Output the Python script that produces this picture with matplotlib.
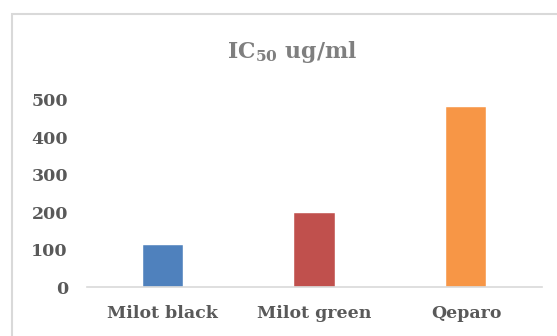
import numpy as np
import matplotlib
matplotlib.use("Agg")
import matplotlib.pyplot as plt
from matplotlib.patches import Rectangle

categories = ["Milot black", "Milot green", "Qeparo"]
ic50_values = [112, 198, 481]
bar_colors = ["#4F81BD", "#C0504D", "#F79646"]
y_ticks = [0, 100, 200, 300, 400, 500]

plt.rcParams['font.family'] = ['DejaVu Serif']
plt.rcParams['font.weight'] = 'bold'
plt.rcParams['mathtext.fontset'] = 'custom'
plt.rcParams['mathtext.rm'] = 'DejaVu Serif:bold'
plt.rcParams['mathtext.bf'] = 'DejaVu Serif:bold'

W, H = 557, 336
fig = plt.figure(figsize=(W / 100, H / 100), dpi=100)
ax = fig.add_axes([87 / W, 1 - 287 / H, (542 - 87) / W, (287 - 100) / H])

x = np.arange(len(categories))
ax.bar(x, ic50_values, width=0.265, color=bar_colors, edgecolor="white", linewidth=0.3)

ax.set_xlim(-0.5, len(categories) - 0.5)
ax.set_ylim(0, 500)
ax.set_yticks(y_ticks)
ax.set_xticks(x)
ax.set_xticklabels(categories)

for s in ["top", "right", "left"]:
    ax.spines[s].set_visible(False)
ax.spines["bottom"].set_color("#D9D9D9")
ax.spines["bottom"].set_linewidth(1.2)
ax.tick_params(axis="both", length=0, colors="#595959", labelsize=12.5)
ax.tick_params(axis="y", pad=13.7)
ax.tick_params(axis="x", pad=13)
for lbl in ax.get_xticklabels() + ax.get_yticklabels():
    lbl.set_fontweight("bold")

fig.text(292 / W, 1 - 52 / H, r"IC$_{\mathrm{50}}$ ug/ml", ha="center", va="center",
         fontsize=15.8, fontweight="bold", color="#7F7F7F")

# chart frame, cut off on right and bottom like the reference
fig.patches.append(Rectangle((12 / W, -0.1), 1.2, 1.1 - 14 / H, transform=fig.transFigure,
                             fill=False, edgecolor="#D9D9D9", linewidth=1.5))

fig.savefig("out.png", dpi=100)
